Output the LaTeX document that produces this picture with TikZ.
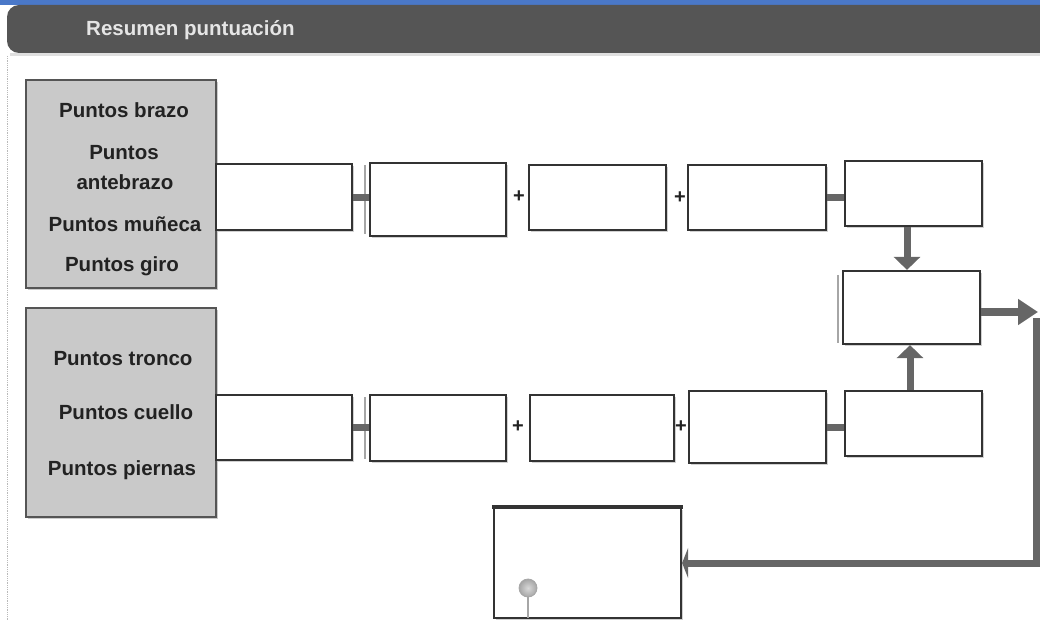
\documentclass[tikz,border=0pt]{standalone}
\usepackage{fontspec}
\setmainfont{Liberation Sans}
\usetikzlibrary{arrows.meta,shadows}
\definecolor{barblue}{HTML}{4A78C8}
\definecolor{bardark}{HTML}{555555}
\definecolor{boxline}{HTML}{333333}
\definecolor{conngray}{HTML}{666666}
\definecolor{panelgray}{HTML}{C9C9C9}
\definecolor{txt}{HTML}{222222}
\tikzset{
  box/.style={draw=boxline, line width=2.2pt, fill=white, inner sep=0pt,
    drop shadow={shadow xshift=2pt, shadow yshift=-2pt, fill=gray!45, opacity=0.8}},
  panel/.style={draw=bardark, line width=2pt, fill=panelgray, inner sep=0pt,
    drop shadow={shadow xshift=2pt, shadow yshift=-2pt, fill=gray!50, opacity=0.8}},
  lbl/.style={font=\fontsize{20.5}{24}\selectfont\bfseries, text=txt, inner sep=0pt},
  plus/.style={font=\fontsize{20}{22}\selectfont\bfseries, text=txt, inner sep=0pt},
  conn/.style={draw=conngray, line width=7pt},
  thinbar/.style={draw=gray!70, line width=2pt},
  fatarrow/.style={draw=conngray, line width=7pt, -{Triangle[length=13pt,width=26pt]}},
  backarrow/.style={draw=conngray, line width=7pt, -{Triangle[length=6pt,width=30pt]}},
}
\begin{document}
\begin{tikzpicture}[x=1pt,y=-1pt]
\useasboundingbox (0,0) rectangle (1040,620);
% header
\fill[barblue] (0,0) rectangle (1040,5);
\fill[gray!25] (10,53) rectangle (1040,56);
\fill[bardark, rounded corners=12pt] (7,5) rectangle (1070,53);
\node[anchor=west, font=\fontsize{20.5}{24}\selectfont\bfseries, text=gray!20, inner sep=0pt] (title) at (86,30) {Resumen puntuación};
\draw[gray!55, line width=0.8pt, densely dotted] (7,56) -- (7,620);

% left panels
\node[panel, minimum width=190pt, minimum height=208pt] (g1) at (121,184) {};
\node[panel, minimum width=190pt, minimum height=209pt] (g2) at (121,412.5) {};
\node[lbl] (t1) at (124,110) {Puntos brazo};
\node[lbl] (t2) at (124,153) {Puntos};
\node[lbl] (t3) at (125,182) {antebrazo};
\node[lbl] (t4) at (125,224) {Puntos muñeca};
\node[lbl] (t5) at (122,266) {Puntos giro};
\node[lbl] (t6) at (123,359) {Puntos tronco};
\node[lbl] (t7) at (126,412) {Puntos cuello};
\node[lbl] (t8) at (122,470) {Puntos piernas};

% top row
\node[box, minimum width=136pt, minimum height=66pt] (a1) at (284,197) {};
\node[box, minimum width=136pt, minimum height=73pt] (a2) at (438,199.5) {};
\node[box, minimum width=137pt, minimum height=65pt] (a3) at (597.5,197.5) {};
\node[box, minimum width=138pt, minimum height=65pt] (a4) at (757,197.5) {};
\node[box, minimum width=137pt, minimum height=65pt] (a5) at (913.5,193.5) {};
% middle
\node[box, minimum width=137pt, minimum height=73pt] (m) at (911.5,307.5) {};
% bottom row
\node[box, minimum width=136pt, minimum height=65pt] (b1) at (284,427.5) {};
\node[box, minimum width=136pt, minimum height=66pt] (b2) at (438,428) {};
\node[box, minimum width=144pt, minimum height=66pt] (b3) at (602,428) {};
\node[box, minimum width=137pt, minimum height=72pt] (b4) at (757.5,427) {};
\node[box, minimum width=137pt, minimum height=65pt] (b5) at (913.5,423.5) {};
% result box
\node[box, minimum width=187pt, minimum height=110pt] (r) at (587.5,563) {};
\draw[boxline, line width=4.5pt] ([xshift=-1pt]r.north west) -- ([xshift=1pt]r.north east);
\draw[gray!70, line width=1.2pt] (528,597) -- (528,618);
\node[circle, draw=gray!70, line width=0.8pt, inner color=gray!30, outer color=gray!70, minimum size=18pt, inner sep=0pt] (dot) at (528,588) {};

% thin bars
\draw[thinbar] ([shift={(-4,3)}]a2.north west) -- ([shift={(-4,-3)}]a2.south west);
\draw[thinbar] ([shift={(-4,3)}]b2.north west) -- ([shift={(-4,-3)}]b2.south west);
\draw[thinbar] ([shift={(-4,5)}]m.north west) -- ([shift={(-4,-2)}]m.south west);

% connectors top
\coordinate (ya) at (0,198);
\draw[conn] (a1.east |- ya) -- (a2.west |- ya);
\draw[conn] (a4.east |- ya) -- (a5.west |- ya);
\node[plus] (p1) at (519,197) {+};
\node[plus] (p2) at (680,198) {+};
% connectors bottom
\coordinate (yb) at (0,427);
\draw[conn] (b1.east |- yb) -- (b2.west |- yb);
\draw[conn] (b4.east |- yb) -- (b5.west |- yb);
\node[plus] (p3) at (518,427) {+};
\node[plus] (p4) at (681,427) {+};

% arrows
\coordinate (dx) at (907,0);
\draw[fatarrow] (dx |- a5.south) -- (dx |- m.north);
\coordinate (ux) at (910,0);
\draw[fatarrow] (ux |- b5.north) -- (ux |- m.south);
\coordinate (rt) at (1038,312);
\draw[draw=conngray, line width=8pt, -{Triangle[length=20pt,width=25pt]}] (m.east |- rt) -- (rt);
\coordinate (cn) at (1036.5,318);
\draw[backarrow] (cn) |- (r.east);
\end{tikzpicture}
\end{document}
